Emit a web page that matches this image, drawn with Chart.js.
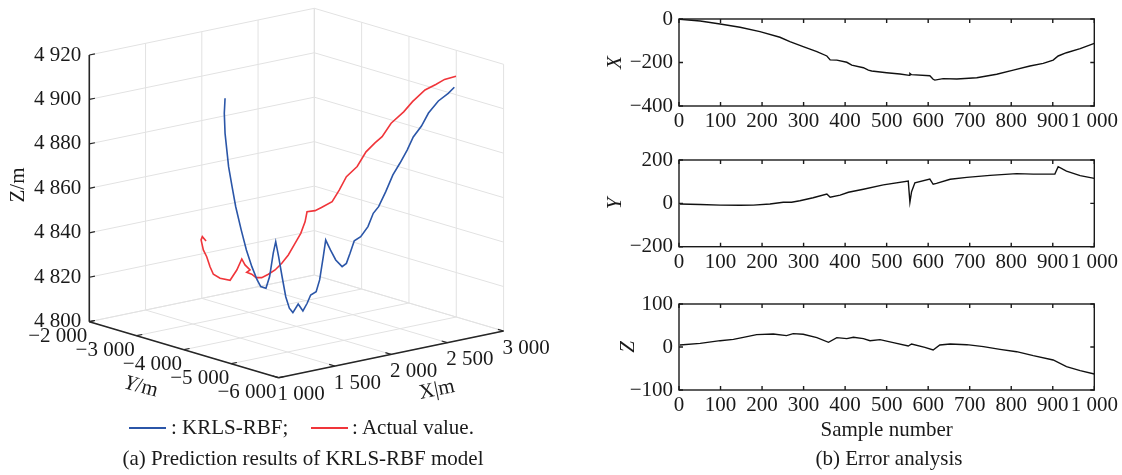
<!DOCTYPE html>
<html>
<head>
<meta charset="utf-8">
<script src="https://cdn.jsdelivr.net/npm/chart.js@4.4.0/dist/chart.umd.min.js"></script>
<style>
  body { margin: 0; background: #fff; width: 1122px; height: 475px; position: relative; overflow: hidden;
         font-family: "Liberation Serif", "Times New Roman", serif; color: #1a1a1a; }
  canvas { position: absolute; }
  .txt { position: absolute; font-size: 21px; line-height: 21px; white-space: nowrap; transform: translateY(-50%); }
  .ctr { transform: translate(-50%, -50%); }
  .leg { position: absolute; height: 2px; }
</style>
</head>
<body>
<canvas id="c3d" width="600" height="420" style="left:0px;top:0px"></canvas>
<canvas id="cX" width="522" height="140" style="left:600px;top:0px"></canvas>
<canvas id="cY" width="522" height="135" style="left:600px;top:140px"></canvas>
<canvas id="cZ" width="522" height="175" style="left:600px;top:275px"></canvas>

<div class="leg" style="left:129px;top:427px;width:37px;background:#2b56a8"></div>
<div class="txt" style="left:171px;top:427px">: KRLS-RBF;</div>
<div class="leg" style="left:311px;top:427px;width:37px;background:#f0353a"></div>
<div class="txt" style="left:352px;top:427px">: Actual value.</div>
<div class="txt ctr" style="left:303px;top:458px">(a) Prediction results of KRLS-RBF model</div>
<div class="txt ctr" style="left:889px;top:458px">(b) Error analysis</div>

<script>
// ---- 3D trajectory (m) ----
const predX = [1476,1471,1476,1499,1522,1546,1582,1616,1652,1687,1711,1745,1769,1793,1809,1828,1851,1875,1899,1922,1957,1988,2016,2039,2075,2098,2122,2138,2169,2204,2246,2274,2298,2326,2368,2416,2451,2486,2533,2580,2627,2674,2714,2768,2814,2879,2944,2984];
const predY = [-3737,-3733,-3737,-3757,-3776,-3796,-3826,-3855,-3885,-3914,-3933,-3962,-3982,-4002,-4016,-4032,-4051,-4071,-4090,-4110,-4139,-4165,-4188,-4208,-4238,-4257,-4277,-4290,-4316,-4345,-4380,-4404,-4424,-4447,-4483,-4522,-4551,-4581,-4620,-4659,-4698,-4737,-4771,-4816,-4855,-4909,-4963,-4997];
const predZ = [4906.5,4899.8,4890.7,4875.6,4866.5,4857.3,4846.7,4837.5,4829.8,4823.6,4820.5,4819.6,4824.7,4835.1,4840.2,4833.4,4824.2,4815.1,4809.8,4807.7,4811.4,4808.1,4811.4,4815.0,4816.3,4821.5,4831.8,4839.2,4834.6,4829.9,4826.7,4828.0,4832.4,4837.9,4839.5,4843.8,4849.6,4852.4,4858.9,4866.2,4871.3,4876.9,4882.6,4887.2,4892.8,4897.9,4901.0,4903.5];

const actX = [1351,1326,1318,1333,1355,1377,1399,1443,1509,1553,1586,1607,1640,1618,1651,1680,1717,1761,1805,1849,1892,1936,1974,2002,2015,2068,2110,2180,2228,2274,2345,2403,2462,2509,2568,2651,2709,2791,2862,2920,2995];
const actY = [-3633,-3613,-3606,-3618,-3637,-3655,-3673,-3710,-3765,-3802,-3829,-3847,-3875,-3857,-3884,-3908,-3939,-3975,-4012,-4049,-4085,-4122,-4153,-4177,-4188,-4232,-4267,-4326,-4365,-4404,-4463,-4512,-4561,-4600,-4650,-4718,-4767,-4836,-4895,-4943,-5006];
const actZ = [4842.9,4845.0,4843.6,4839.0,4835.8,4831.2,4827.7,4825.7,4824.4,4828.8,4833.6,4830.8,4828.4,4827.4,4826.4,4824.7,4824.5,4825.8,4827.5,4830.3,4833.8,4838.8,4843.1,4848.1,4852.6,4852.8,4854.0,4856.3,4861.3,4867.0,4871.2,4877.5,4881.2,4883.8,4889.5,4894.2,4898.5,4903.3,4905.4,4907.4,4908.4];

const xTicks3d = [1000, 1500, 2000, 2500, 3000];
const yTicks3d = [-2000, -3000, -4000, -5000, -6000];
const zTicks3d = [4800, 4820, 4840, 4860, 4880, 4900, 4920];

// ---- error curves ----
const errXSamples = [2,51,99,147,195,243,267,299,332,356,364,380,404,416,444,456,464,500,532,555,556,560,604,612,616,636,669,717,765,805,845,877,901,913,933,966,1000];
const errXValues = [-1.5,-9,-23,-38,-58,-84,-104,-127,-150,-170,-188,-189,-199,-212,-224,-235,-239,-247,-253,-259,-250,-256,-261,-277,-281,-274,-276,-270,-254,-235,-216,-204,-189,-170,-155,-136,-112];

const errYSamples = [2,51,99,147,179,219,251,271,291,323,356,364,388,408,444,492,552,556,560,568,604,612,620,653,693,749,813,853,905,913,933,966,1000];
const errYValues = [-3,-5,-8,-9,-8,-3,5,5,12,26,43,28,38,51,65,85,103,5,54,95,112,88,92,111,120,129,137,135,135,169,149,128,115];

const errZSamples = [2,51,99,131,155,187,227,259,275,299,332,360,380,404,420,444,460,484,516,552,560,592,612,628,653,693,733,773,813,853,901,933,966,1000];
const errZValues = [4.7,8.5,14.7,17.8,22.5,28.7,30.2,26.4,31,29.5,21.7,10.9,21.7,19.4,22.5,19.4,14.7,17.1,10.1,2.3,7,-0.8,-7,4.7,7,5.4,0.8,-5.4,-10.9,-20.2,-30.2,-45.7,-55,-62.8];

const FONT = '"Liberation Serif", "Times New Roman", serif';
Chart.defaults.font.family = FONT;
Chart.defaults.font.size = 21;
Chart.defaults.color = '#1a1a1a';

const fmt = v => {
  const a = Math.abs(v);
  const s = a >= 1000 ? Math.floor(a / 1000) + ' ' + String(a % 1000).padStart(3, '0') : String(a);
  return (v < 0 ? '\u2212' : '') + s;
};

// view of the 3D box: screen offset of the (xmin, ymin, zmin) corner and one vector per axis range
const X0 = xTicks3d[0], X1 = xTicks3d[xTicks3d.length - 1];
const Y0 = yTicks3d[yTicks3d.length - 1], Y1 = yTicks3d[0];
const Z0 = zTicks3d[0], Z1 = zTicks3d[zTicks3d.length - 1];
const corner = [278.6, 377.7];
const vx = [225, -46.7], vy = [-189.3, -56], vz = [0, -266.7];

function project(x, y, z) {
  const a = (x - X0) / (X1 - X0), b = (y - Y0) / (Y1 - Y0), c = (z - Z0) / (Z1 - Z0);
  return { x: corner[0] + a * vx[0] + b * vy[0] + c * vz[0], y: corner[1] + a * vx[1] + b * vy[1] + c * vz[1] };
}

const box3d = {
  id: 'box3d',
  beforeDatasetsDraw(chart) {
    const { ctx, scales: { x: sx, y: sy } } = chart;
    const pt = (x, y, z) => { const p = project(x, y, z); return [sx.getPixelForValue(p.x), sy.getPixelForValue(p.y)]; };
    const seg = (p, q) => { ctx.beginPath(); ctx.moveTo(p[0], p[1]); ctx.lineTo(q[0], q[1]); ctx.stroke(); };

    ctx.save();
    ctx.strokeStyle = '#e2e2e2';
    ctx.lineWidth = 1;
    xTicks3d.forEach(x => {
      seg(pt(x, Y0, Z0), pt(x, Y1, Z0));
      seg(pt(x, Y1, Z0), pt(x, Y1, Z1));
    });
    yTicks3d.forEach(y => {
      seg(pt(X0, y, Z0), pt(X1, y, Z0));
      seg(pt(X1, y, Z0), pt(X1, y, Z1));
    });
    zTicks3d.forEach(z => {
      seg(pt(X0, Y1, z), pt(X1, Y1, z));
      seg(pt(X1, Y0, z), pt(X1, Y1, z));
    });

    // axes
    ctx.strokeStyle = '#262626';
    ctx.lineWidth = 1.6;
    seg(pt(X0, Y1, Z0), pt(X0, Y1, Z1));
    seg(pt(X0, Y1, Z0), pt(X0, Y0, Z0));
    seg(pt(X0, Y0, Z0), pt(X1, Y0, Z0));

    ctx.lineWidth = 1.2;
    const ux = (X1 - X0) * 0.025, uy = (Y1 - Y0) * 0.03;
    zTicks3d.forEach(z => seg(pt(X0, Y1, z), pt(X0 + ux, Y1, z)));
    yTicks3d.forEach(y => seg(pt(X0, y, Z0), pt(X0 + ux, y, Z0)));
    xTicks3d.forEach(x => seg(pt(x, Y0, Z0), pt(x, Y0 + uy, Z0)));

    // tick labels
    ctx.fillStyle = '#1a1a1a';
    ctx.font = '21px ' + FONT;
    ctx.textBaseline = 'middle';
    ctx.textAlign = 'right';
    zTicks3d.forEach(z => { const p = pt(X0, Y1, z); ctx.fillText(fmt(z), p[0] - 8, p[1]); });
    yTicks3d.forEach(y => { const p = pt(X0, y, Z0); ctx.fillText(fmt(y), p[0] - 2, p[1] + 15); });
    ctx.textAlign = 'left';
    xTicks3d.forEach(x => { const p = pt(x, Y0, Z0); ctx.fillText(fmt(x), p[0] - 1, p[1] + 17); });

    // axis titles
    const title = (parts, cx, cy, ang) => {
      ctx.save();
      ctx.translate(cx, cy);
      ctx.rotate(ang);
      let w = 0;
      parts.forEach(([t, it]) => { ctx.font = (it ? 'italic ' : '') + '21px ' + FONT; w += ctx.measureText(t).width; });
      let xx = -w / 2;
      ctx.textAlign = 'left';
      parts.forEach(([t, it]) => { ctx.font = (it ? 'italic ' : '') + '21px ' + FONT; ctx.fillText(t, xx, 0); xx += ctx.measureText(t).width; });
      ctx.restore();
    };
    title([['Z', false], ['/m', false]], 18, 185, -Math.PI / 2);
    title([['Y', true], ['/m', false]], 141, 387, 0.26);
    title([['X', false], ['|m', false]], 437, 390, -0.2);
    ctx.restore();
  }
};

new Chart(document.getElementById('c3d'), {
  type: 'scatter',
  data: {
    datasets: [
      { label: 'KRLS-RBF', data: predX.map((x, i) => project(x, predY[i], predZ[i])),
        showLine: true, borderColor: '#2b56a8', borderWidth: 1.6, pointRadius: 0, tension: 0 },
      { label: 'Actual value', data: actX.map((x, i) => project(x, actY[i], actZ[i])),
        showLine: true, borderColor: '#f0353a', borderWidth: 1.6, pointRadius: 0, tension: 0 }
    ]
  },
  options: {
    responsive: false, animation: false, devicePixelRatio: 1,
    layout: { padding: 0 },
    plugins: { legend: { display: false }, tooltip: { enabled: false } },
    scales: {
      x: { type: 'linear', min: 0, max: 600, display: false },
      y: { type: 'linear', min: 0, max: 420, reverse: true, display: false }
    }
  },
  plugins: [box3d]
});

// inward ticks on all four sides plus the frame
const frameTicks = {
  id: 'frameTicks',
  afterDatasetsDraw(chart) {
    const { ctx, chartArea: a, scales: { x, y } } = chart;
    ctx.save();
    ctx.strokeStyle = '#1a1a1a';
    ctx.lineWidth = 1.4;
    ctx.strokeRect(a.left, a.top, a.right - a.left, a.bottom - a.top);
    ctx.beginPath();
    x.ticks.forEach(t => {
      const p = x.getPixelForValue(t.value);
      ctx.moveTo(p, a.bottom); ctx.lineTo(p, a.bottom - 4);
      ctx.moveTo(p, a.top); ctx.lineTo(p, a.top + 4);
    });
    y.ticks.forEach(t => {
      const p = y.getPixelForValue(t.value);
      ctx.moveTo(a.left, p); ctx.lineTo(a.left + 4, p);
      ctx.moveTo(a.right, p); ctx.lineTo(a.right - 4, p);
    });
    ctx.stroke();
    ctx.restore();
  }
};

function errChart(id, samples, values, yMin, yMax, label, labelPad, padTop, xHeight, xTitle) {
  return new Chart(document.getElementById(id), {
    type: 'line',
    data: {
      datasets: [{ data: samples.map((s, i) => ({ x: s, y: values[i] })),
        borderColor: '#111', borderWidth: 1.4, pointRadius: 0, tension: 0 }]
    },
    options: {
      responsive: false, animation: false, devicePixelRatio: 1,
      layout: { padding: { top: padTop, right: 27.7, left: 0, bottom: 0 } },
      plugins: { legend: { display: false }, tooltip: { enabled: false } },
      scales: {
        x: {
          type: 'linear', min: 0, max: 1000,
          grid: { display: false, drawTicks: false }, border: { display: false },
          ticks: { stepSize: 100, maxRotation: 0, autoSkip: false, padding: 3, callback: v => fmt(v) },
          title: xTitle ? { display: true, text: xTitle, padding: { top: 0, bottom: 7 } } : { display: false },
          afterFit: s => { s.height = xHeight; }
        },
        y: {
          type: 'linear', min: yMin, max: yMax,
          grid: { display: false, drawTicks: false }, border: { display: false },
          ticks: { stepSize: (yMax - yMin) / 2, padding: 6, callback: v => fmt(v) },
          title: { display: true, text: label, font: { style: 'italic' }, padding: { top: labelPad, bottom: 0 } },
          afterFit: s => { s.width = 79; }
        }
      }
    },
    plugins: [frameTicks]
  });
}

errChart('cX', errXSamples, errXValues, -400, 0, 'X', 2.4, 19, 34);
errChart('cY', errYSamples, errYValues, -200, 200, 'Y', 2.4, 20, 28.3);
errChart('cZ', errZSamples, errZValues, -100, 100, 'Z', 15.4, 29, 60, 'Sample number');
</script>
</body>
</html>
